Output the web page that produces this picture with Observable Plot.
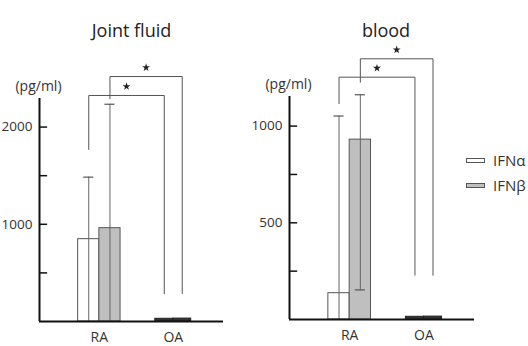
<!DOCTYPE html>
<html><head><meta charset="utf-8">
<script src="https://cdn.jsdelivr.net/npm/d3@7"></script>
<script src="https://cdn.jsdelivr.net/npm/@observablehq/plot@0.6"></script>
<style>
body{margin:0;background:#fff;}
#chart{position:relative;width:528px;height:346px;overflow:hidden;font-family:"Open Sans",sans-serif;background:#fff;}
#chart svg{position:absolute;left:0;top:0;}
</style></head><body><div id="chart"></div>
<script>
// ---- data ----
const categories = ["RA", "OA"];
const series = ["IFNα", "IFNβ"];

// Joint fluid (pg/ml)
const jointIFNa = [847, 28];
const jointIFNb = [960, 30];
const jointIFNaLow = [0, null];
const jointIFNaHigh = [1485, null];
const jointIFNbLow = [0, null];
const jointIFNbHigh = [2235, null];
const jointTicks = [500, 1000, 1500, 2000];
const jointTickLabels = [1000, 2000];
const jointAxisMax = 2294;
const jointBracketSeries = ["IFNα", "IFNβ"];
const jointBracketLeftLow = [1770, 2291];
const jointBracketTop = [2325, 2520];
const jointBracketRightLow = [285, 288];

// Blood (pg/ml)
const bloodIFNa = [136, 14];
const bloodIFNb = [930, 15];
const bloodIFNaLow = [0, null];
const bloodIFNaHigh = [1052, null];
const bloodIFNbLow = [153, null];
const bloodIFNbHigh = [1162, null];
const bloodTicks = [250, 500, 750, 1000];
const bloodTickLabels = [500, 1000];
const bloodAxisMax = 1153;
const bloodBracketSeries = ["IFNα", "IFNβ"];
const bloodBracketLeftLow = [1116, 1227];
const bloodBracketTop = [1253, 1348];
const bloodBracketRightLow = [229, 229];

const unit = "(pg/ml)";
const titles = ["Joint fluid", "blood"];

// ---- drawing ----
const xDomain = [-0.81, 1.68];
const barHalf = {RA: 0.287, OA: 0.243};
const capHalf = 0.068, tickLen = 0.11;
const colors = {"IFNα": "#ffffff", "IFNβ": "#bfbfbf"};
const ink = "#555";

function panel(cfg) {
  const rows = [];
  categories.forEach((c, i) => {
    rows.push({cat: c, i, s: "IFNα", v: cfg.a[i], lo: cfg.aLow[i], hi: cfg.aHigh[i]});
    rows.push({cat: c, i, s: "IFNβ", v: cfg.b[i], lo: cfg.bLow[i], hi: cfg.bHigh[i]});
  });
  const x1 = d => d.s === "IFNα" ? d.i - barHalf[d.cat] : d.i;
  const x2 = d => d.s === "IFNα" ? d.i : d.i + barHalf[d.cat];
  const xc = d => (x1(d) + x2(d)) / 2;
  const centerOf = (cat, s) => xc({cat, i: categories.indexOf(cat), s});
  const err = rows.filter(d => d.hi != null);
  const lowCaps = err.filter(d => d.lo > 0);

  const brackets = cfg.bSeries.map((s, k) => ({
    id: k,
    xl: centerOf("RA", s), xr: centerOf("OA", s),
    ll: cfg.bLeftLow[k], top: cfg.bTop[k], rl: cfg.bRightLow[k]
  }));
  const bracketPts = brackets.flatMap(b => [
    {id: b.id, x: b.xl, y: b.ll}, {id: b.id, x: b.xl, y: b.top},
    {id: b.id, x: b.xr, y: b.top}, {id: b.id, x: b.xr, y: b.rl}
  ]);

  return Plot.plot({
    width: 528, height: 346,
    marginLeft: cfg.marginLeft, marginRight: cfg.marginRight,
    marginTop: cfg.marginTop, marginBottom: cfg.marginBottom,
    x: {domain: xDomain, axis: null},
    y: {domain: [0, cfg.axisMax], axis: null},
    style: {background: "transparent", overflow: "visible", fontFamily: "Open Sans"},
    marks: [
      Plot.rect(rows, {x1, x2, y1: 0, y2: "v", fill: d => d.cat === "OA" ? "#333" : colors[d.s], stroke: d => d.cat === "OA" ? "#222" : ink, strokeWidth: 1}),
      Plot.ruleX(err, {x: xc, y1: "lo", y2: "hi", stroke: "#666", strokeWidth: 1}),
      Plot.ruleY(err, {y: "hi", x1: d => xc(d) - capHalf, x2: d => xc(d) + capHalf, stroke: ink, strokeWidth: 1.2}),
      Plot.ruleY(lowCaps, {y: "lo", x1: d => xc(d) - capHalf, x2: d => xc(d) + capHalf, stroke: ink, strokeWidth: 1.2}),
      Plot.line(bracketPts, {x: "x", y: "y", z: "id", stroke: ink, strokeWidth: 1}),
      Plot.dot(brackets, {x: b => (b.xl + b.xr) / 2, y: "top", symbol: "star", r: 2.5, fill: "#222", stroke: "none", dy: -9}),
      Plot.ruleX([xDomain[0]], {y1: 0, y2: cfg.axisMax, stroke: "#111", strokeWidth: 2}),
      Plot.ruleY([0], {stroke: "#111", strokeWidth: 2}),
      Plot.ruleY(cfg.ticks, {x1: xDomain[0], x2: xDomain[0] + tickLen, stroke: "#111", strokeWidth: 1.5}),
      Plot.text(cfg.tickLabels, {y: d => d, text: d => String(d), frameAnchor: "left", textAnchor: "end", dx: -7, fontSize: 13.5, fill: "#333"}),
      Plot.text([unit], {x: xDomain[0], y: cfg.axisMax, dy: -12, dx: -1, fontSize: 14, fill: "#333"}),
      Plot.text(categories, {x: (d, i) => i, y: 0, dy: 16, fontSize: 14, fill: "#333"}),
      Plot.text([cfg.title], {frameAnchor: "top", dy: 24 - cfg.marginTop, dx: cfg.titleDx, fontSize: 18, fill: "#222"})
    ]
  });
}

const chart = document.getElementById("chart");
chart.appendChild(panel({
  title: titles[0], a: jointIFNa, b: jointIFNb,
  aLow: jointIFNaLow, aHigh: jointIFNaHigh, bLow: jointIFNbLow, bHigh: jointIFNbHigh,
  ticks: jointTicks, tickLabels: jointTickLabels, axisMax: jointAxisMax,
  bSeries: jointBracketSeries, bLeftLow: jointBracketLeftLow, bTop: jointBracketTop, bRightLow: jointBracketRightLow,
  marginLeft: 39, marginRight: 305, marginTop: 98, marginBottom: 25, titleDx: 0
}));
chart.appendChild(panel({
  title: titles[1], a: bloodIFNa, b: bloodIFNb,
  aLow: bloodIFNaLow, aHigh: bloodIFNaHigh, bLow: bloodIFNbLow, bHigh: bloodIFNbHigh,
  ticks: bloodTicks, tickLabels: bloodTickLabels, axisMax: bloodAxisMax,
  bSeries: bloodBracketSeries, bLeftLow: bloodBracketLeftLow, bTop: bloodBracketTop, bRightLow: bloodBracketRightLow,
  marginLeft: 289, marginRight: 54, marginTop: 96, marginBottom: 27, titleDx: 4
}));

// legend
series.forEach((s, k) => {
  const item = document.createElement("div");
  item.style.cssText = `position:absolute;left:466px;top:${150 + k * 25}px;height:20px;display:flex;align-items:center;gap:8px;font:15px "Open Sans",sans-serif;color:#333;white-space:nowrap;`;
  const sw = document.createElement("span");
  sw.style.cssText = `display:inline-block;width:17px;height:3px;border:1px solid ${ink};background:${colors[s]};`;
  const label = document.createElement("span");
  label.textContent = s;
  item.appendChild(sw); item.appendChild(label);
  chart.appendChild(item);
});
</script>
</body></html>
